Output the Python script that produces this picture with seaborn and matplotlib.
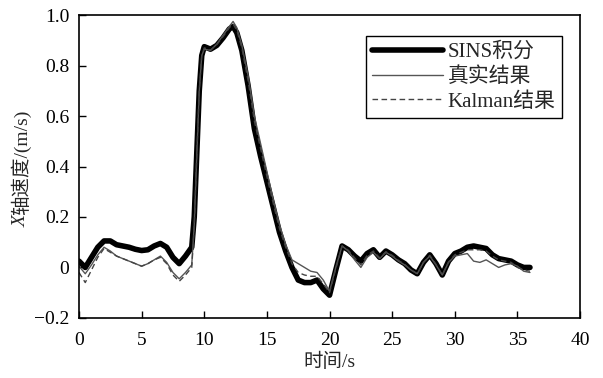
import numpy as np
import pandas as pd
import matplotlib
matplotlib.use("Agg")
import matplotlib.pyplot as plt
import seaborn as sns

# ---- data ----
t = [0, 0.5, 1.0, 1.5, 2.0, 2.5, 3.0, 3.5, 4.0, 4.5, 5.0, 5.5, 6.0, 6.5, 7.0, 7.5,
     8.0, 8.5, 9.0, 9.2, 9.4, 9.6, 9.8, 10.0, 10.5, 11.0, 11.5, 12.0, 12.3, 12.6,
     13.0, 13.5, 14.0, 14.5, 15.0, 15.5, 16.0, 16.5, 17.0, 17.5, 18.0, 18.5, 19.0,
     19.5, 20.0, 20.5, 21.0, 21.5, 22.0, 22.5, 23.0, 23.5, 24.0, 24.5, 25.0, 25.5,
     26.0, 26.5, 27.0, 27.5, 28.0, 28.5, 29.0, 29.5, 30.0, 30.5, 31.0, 31.5, 32.0,
     32.5, 33.0, 33.5, 34.0, 34.5, 35.0, 35.5, 36.0]

sins = [0.025, 0.0, 0.04, 0.08, 0.105, 0.105, 0.09, 0.085, 0.08, 0.072, 0.067, 0.07,
        0.085, 0.095, 0.08, 0.04, 0.015, 0.045, 0.08, 0.20, 0.45, 0.70, 0.84, 0.875,
        0.865, 0.88, 0.91, 0.945, 0.955, 0.93, 0.86, 0.72, 0.55, 0.44, 0.34, 0.24,
        0.14, 0.065, 0.0, -0.05, -0.06, -0.06, -0.05, -0.085, -0.11, -0.01, 0.085,
        0.07, 0.045, 0.025, 0.055, 0.07, 0.04, 0.065, 0.05, 0.03, 0.015, -0.01,
        -0.025, 0.02, 0.05, 0.015, -0.03, 0.025, 0.055, 0.065, 0.08, 0.085, 0.08,
        0.075, 0.05, 0.035, 0.03, 0.025, 0.01, 0.0, 0.0]

true_v = [0.005, -0.025, 0.01, 0.05, 0.08, 0.065, 0.045, 0.035, 0.025, 0.015, 0.005,
          0.015, 0.03, 0.045, 0.02, -0.02, -0.045, -0.02, 0.01, 0.17, 0.44, 0.70,
          0.84, 0.865, 0.86, 0.885, 0.92, 0.955, 0.975, 0.95, 0.88, 0.76, 0.60, 0.49,
          0.38, 0.27, 0.17, 0.09, 0.03, 0.015, 0.0, -0.015, -0.02, -0.05, -0.095, 0.0,
          0.085, 0.065, 0.03, 0.0, 0.04, 0.06, 0.035, 0.06, 0.045, 0.025, 0.01, -0.01,
          -0.025, 0.02, 0.045, 0.01, -0.03, 0.02, 0.045, 0.05, 0.055, 0.025, 0.02,
          0.03, 0.015, 0.0, 0.01, 0.015, 0.005, -0.015, -0.02]

kalman = [-0.02, -0.06, -0.01, 0.04, 0.075, 0.06, 0.045, 0.035, 0.025, 0.015, 0.005,
          0.015, 0.03, 0.04, 0.015, -0.03, -0.055, -0.03, 0.0, 0.16, 0.44, 0.70,
          0.84, 0.87, 0.862, 0.883, 0.915, 0.95, 0.965, 0.94, 0.87, 0.74, 0.58, 0.47,
          0.36, 0.255, 0.155, 0.08, 0.015, -0.02, -0.03, -0.035, -0.035, -0.065, -0.1,
          -0.005, 0.085, 0.068, 0.038, 0.01, 0.048, 0.065, 0.038, 0.062, 0.048, 0.028,
          0.012, -0.01, -0.025, 0.02, 0.048, 0.012, -0.03, 0.022, 0.05, 0.06, 0.07,
          0.07, 0.07, 0.065, 0.045, 0.03, 0.025, 0.02, 0.0, -0.01, -0.015]

labels = ["SINS积分", "真实结果", "Kalman结果"]
xticks = [0, 5, 10, 15, 20, 25, 30, 35, 40]
yticks = [-0.2, 0, 0.2, 0.4, 0.6, 0.8, 1.0]
ytick_labels = ["\u22120.2", "0", "0.2", "0.4", "0.6", "0.8", "1.0"]

# ---- style ----
sns.set_theme(style="ticks")
FAM = ["Liberation Serif", "Noto Sans CJK SC"]
plt.rcParams["font.family"] = FAM
plt.rcParams["axes.unicode_minus"] = True

fig = plt.figure(figsize=(6.03, 3.78), dpi=100)
ax = fig.add_axes([0.131, 0.159, 0.831, 0.801])

df = pd.DataFrame({"t": t, "sins": sins, "true": true_v, "kalman": kalman})

sns.lineplot(data=df, x="t", y="sins", ax=ax, color="black", lw=4.0,
             label=labels[0], solid_capstyle="round", solid_joinstyle="round")
sns.lineplot(data=df, x="t", y="true", ax=ax, color="#555555", lw=1.0,
             label=labels[1])
sns.lineplot(data=df, x="t", y="kalman", ax=ax, color="#444444", lw=1.0,
             linestyle=(0, (4, 2.5)), label=labels[2])

ax.set_xlim(0, 40)
ax.set_ylim(-0.2, 1.0)
ax.set_xticks(xticks)
ax.set_xticklabels([str(v) for v in xticks])
ax.set_yticks(yticks)
ax.set_yticklabels(ytick_labels)
ax.tick_params(direction="in", length=5, width=1, labelsize=14, colors="black",
               top=False, right=False)
ax.tick_params(axis="x", pad=10)
ax.tick_params(axis="y", pad=7)
for s in ax.spines.values():
    s.set_visible(True)
    s.set_linewidth(1.2)
    s.set_color("black")

ax.set_xlabel("时间/s", fontsize=14, labelpad=3)
ylab = ax.set_ylabel("轴速度/(m/s)", fontsize=14, labelpad=2)
ylab.set_y(0.515)
fig.canvas.draw()
ax.annotate("X", xy=(0.5, 0.0), xycoords=ylab, ha="center", va="top",
            rotation=90, fontsize=14, style="italic", family=FAM)

leg = ax.legend(loc="upper right", bbox_to_anchor=(0.964, 0.931), fontsize=15,
                frameon=True, fancybox=False, shadow=False, handlelength=3.4,
                borderpad=0.3, labelspacing=0.25, handletextpad=0.25,
                borderaxespad=0)
leg.get_frame().set_edgecolor("black")
leg.get_frame().set_linewidth(1.0)
leg.get_frame().set_alpha(1)

fig.savefig("out.png", dpi=100)
